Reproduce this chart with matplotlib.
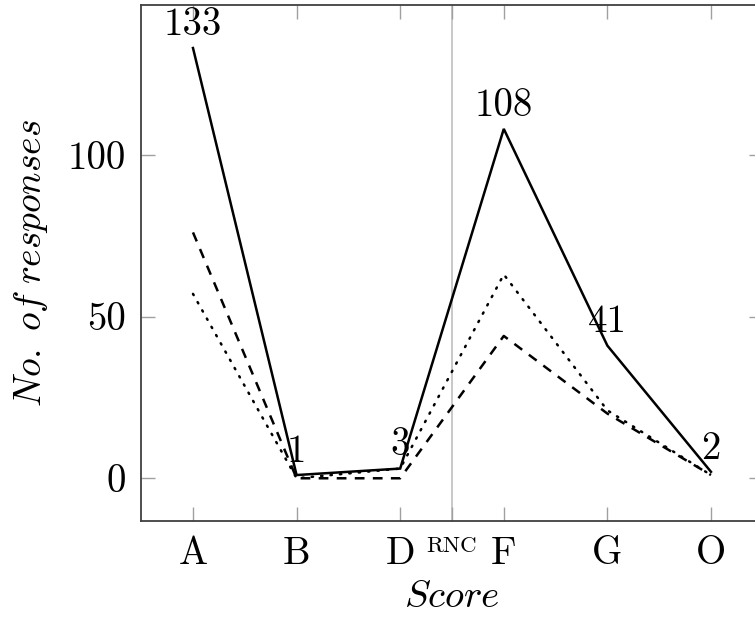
import matplotlib
matplotlib.use("Agg")
import matplotlib.pyplot as plt

# responses per score category
scores = ["A", "B", "D", "F", "G", "O"]
total = [133, 1, 3, 108, 41, 2]
series_dashed = [76, 0, 0, 44, 20, 1]
series_dotted = [57, 0, 3, 63, 21, 1]
rnc_pos = 2.5
rnc_label = "RNC"

plt.rcParams["font.family"] = "cmr10"
plt.rcParams["mathtext.fontset"] = "cm"
plt.rcParams["axes.formatter.use_mathtext"] = True
plt.rcParams["lines.scale_dashes"] = False

fs = 28

fig = plt.figure(figsize=(7.55, 6.17), dpi=100)
ax = fig.add_axes([0.187, 0.1551, 0.8233, 0.8368])

x = list(range(len(scores)))

# separator between D and F
ax.axvline(rnc_pos, color="#c8c8c8", lw=1.4, zorder=1)

ax.plot(x, total, color="black", lw=1.8, solid_joinstyle="miter", zorder=3)
ax.plot(x, series_dashed, color="black", lw=1.8, dashes=(7.0, 6.0), zorder=2)
ax.plot(x, series_dotted, color="black", lw=1.8, dashes=(1.0, 5.8),
        dash_capstyle="round", zorder=2)

for xi, v in zip(x, total):
    ax.annotate(str(v), (xi, v), xytext=(0, 9.5), textcoords="offset points",
                ha="center", va="baseline", fontsize=fs)

ax.set_xlim(-0.5, 5.5)
ax.set_ylim(-13.3, 146.3)

ticks = x[:3] + [rnc_pos] + x[3:]
labels = scores[:3] + [rnc_label] + scores[3:]
ax.set_xticks(ticks)
ax.set_xticklabels(labels, fontsize=fs)
ax.get_xticklabels()[3].set_fontsize(16.5)
ax.set_yticks([0, 50, 100])
ax.set_yticklabels(["0", "50", "100"], fontsize=fs)

ax.tick_params(direction="in", length=10, width=1.0, color="#a0a0a0",
               top=True, right=True, pad=11)

for s in ax.spines.values():
    s.set_color("#404040")
    s.set_linewidth(1.3)

ax.set_xlabel(r"$\mathit{Score}$", fontsize=fs, labelpad=5)
ax.set_ylabel(r"$\mathit{No.\ of\ responses}$", fontsize=27, labelpad=13)

fig.savefig("out.png", dpi=100)
